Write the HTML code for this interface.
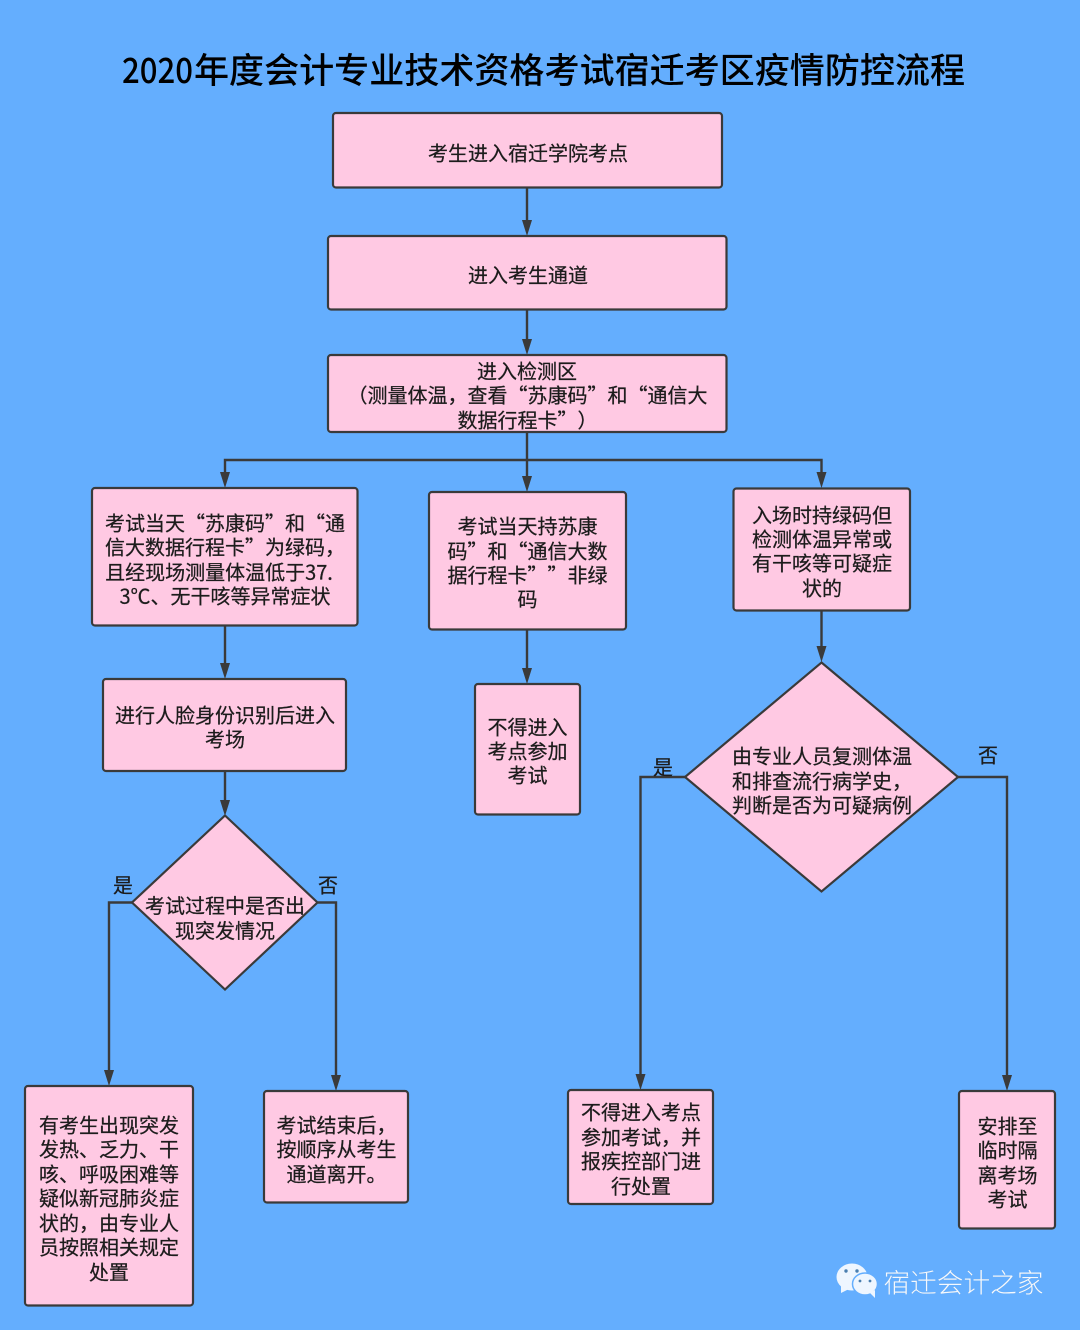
<!DOCTYPE html>
<html><head><meta charset="utf-8"><style>
html,body{margin:0;padding:0;background:#64aefe}
svg{display:block}
text{font-family:"WenQuanYi Zen Hei","Noto Sans CJK SC",sans-serif;font-size:20px;fill:#1c1c1c;stroke:#1c1c1c;stroke-width:.25;text-anchor:middle;text-spacing-trim:space-all;font-kerning:none;transform:translateY(.5px)}
tspan.q{font-family:"Noto Sans CJK SC",sans-serif}
.b{fill:#ffc9e3;stroke:#3a3a3a;stroke-width:2.2}
.l{fill:none;stroke:#3a3a3a;stroke-width:2.4}
.a{fill:#3a3a3a}
.t{font-family:'Noto Sans CJK SC','Liberation Sans',sans-serif;font-size:35px;font-weight:500;fill:#000;stroke:none;text-anchor:start;transform:none}
</style></head><body>
<svg width="1080" height="1330" viewBox="0 0 1080 1330" xmlns="http://www.w3.org/2000/svg">
<rect width="1080" height="1330" fill="#64aefe"/>
<text class="t" x="122" y="83" textLength="71" lengthAdjust="spacingAndGlyphs">2020</text>
<text class="t" x="194" y="83" textLength="771" lengthAdjust="spacingAndGlyphs">年度会计专业技术资格考试宿迁考区疫情防控流程</text>

<path class="l" d="M527 188V222M527 310V342M527 432V478M527 460H225V474M527 460H821.500V474M225 626V664M527 630V670M821.500 611V648M225 771V802M132 902.500H109V1072M318 902.500H336V1077M685 777H640.500V1076M958 777H1007V1077"/>
<g class="a">
<polygon points="527,236 522,220 532,220"/><polygon points="527,355 522,339 532,339"/><polygon points="527,492 522,476 532,476"/>
<polygon points="225,488 220,472 230,472"/><polygon points="821.500,488 816.500,472 826.500,472"/>
<polygon points="225,679 220,663 230,663"/><polygon points="527,684 522,668 532,668"/><polygon points="821.500,662 816.500,646 826.500,646"/>
<polygon points="225,816 220,800 230,800"/><polygon points="109,1086 104,1070 114,1070"/><polygon points="336,1091 331,1075 341,1075"/>
<polygon points="640.500,1090 635.500,1074 645.500,1074"/><polygon points="1007,1091 1002,1075 1012,1075"/>
</g>

<rect class="b" x="333" y="113" width="389" height="74.500" rx="3"/>
<rect class="b" x="328" y="236" width="398.500" height="73.500" rx="3"/>
<rect class="b" x="328" y="355" width="398.500" height="77" rx="3"/>
<rect class="b" x="92" y="488" width="265.500" height="137.500" rx="3"/>
<rect class="b" x="429" y="492" width="197" height="137.500" rx="3"/>
<rect class="b" x="733.500" y="488.500" width="176.500" height="122" rx="3"/>
<rect class="b" x="103" y="679" width="243" height="92" rx="3"/>
<rect class="b" x="475" y="684" width="105" height="130.500" rx="3"/>
<rect class="b" x="25" y="1086" width="168" height="219.500" rx="3"/>
<rect class="b" x="264" y="1091" width="144" height="111.500" rx="3"/>
<rect class="b" x="568" y="1090" width="145" height="114" rx="3"/>
<rect class="b" x="959" y="1091" width="96" height="137.500" rx="3"/>
<polygon class="b" points="225,815.500 317.500,902.500 225,989.500 132,902.500"/>
<polygon class="b" points="821.500,662.500 958,777 821.500,891.500 685,777"/>

<text x="528" y="160">考生进入宿迁学院考点</text>
<text x="528" y="282">进入考生通道</text>
<text x="527" y="378">进入检测区</text>
<text x="527.500" y="402">（测量体温，查看<tspan class="q">“</tspan>苏康码<tspan class="q">”</tspan>和<tspan class="q">“</tspan>通信大</text>
<text x="527.500" y="427">数据行程卡<tspan class="q">”）</tspan></text>

<text x="225" y="530">考试当天<tspan class="q">“</tspan>苏康码<tspan class="q">”</tspan>和<tspan class="q">“</tspan>通</text>
<text x="225" y="554">信大数据行程卡<tspan class="q">”</tspan>为绿码，</text>
<text x="219" y="579">且经现场测量体温低于37.</text>
<text x="225" y="603">3℃、无干咳等异常症状</text>

<text x="527.500" y="533">考试当天持苏康</text>
<text x="527.500" y="558">码<tspan class="q">”</tspan>和<tspan class="q">“</tspan>通信大数</text>
<text x="527.500" y="582">据行程卡<tspan class="q">””</tspan>非绿</text>
<text x="527.500" y="606">码</text>

<text x="822" y="522">入场时持绿码但</text>
<text x="822" y="546">检测体温异常或</text>
<text x="822" y="570">有干咳等可疑症</text>
<text x="822" y="595">状的</text>

<text x="225" y="722">进行人脸身份识别后进入</text>
<text x="225" y="746">考场</text>

<text x="527.500" y="734">不得进入</text>
<text x="527.500" y="758">考点参加</text>
<text x="527.500" y="782">考试</text>

<text x="225" y="912.500">考试过程中是否出</text>
<text x="225" y="937.500">现突发情况</text>
<text x="123" y="892">是</text>
<text x="328" y="892">否</text>

<text x="822" y="763">由专业人员复测体温</text>
<text x="822" y="788">和排查流行病学史，</text>
<text x="822" y="812">判断是否为可疑病例</text>
<text x="663" y="774">是</text>
<text x="988" y="762">否</text>

<text x="109" y="1132">有考生出现突发</text>
<text x="109" y="1156">发热、乏力、干</text>
<text x="109" y="1181">咳、呼吸困难等</text>
<text x="109" y="1205">疑似新冠肺炎症</text>
<text x="109" y="1230">状的，由专业人</text>
<text x="109" y="1254">员按照相关规定</text>
<text x="109" y="1279">处置</text>

<text x="336.500" y="1132">考试结束后，</text>
<text x="336.500" y="1156">按顺序从考生</text>
<text x="336.500" y="1181">通道离开。</text>

<text x="641" y="1119">不得进入考点</text>
<text x="641" y="1144">参加考试，并</text>
<text x="641" y="1168">报疾控部门进</text>
<text x="641" y="1193">行处置</text>

<text x="1007.500" y="1133">安排至</text>
<text x="1007.500" y="1157">临时隔</text>
<text x="1007.500" y="1182">离考场</text>
<text x="1007.500" y="1206">考试</text>

<g fill="#eef6ff">
<ellipse cx="852" cy="1277" rx="15.5" ry="13.5"/>
<polygon points="841,1286 841,1293 849,1289"/>
<ellipse cx="865" cy="1284" rx="12.5" ry="11" stroke="#64aefe" stroke-width="1.5"/>
<polygon points="870,1293 875,1298 875,1290"/>
</g>
<g fill="#4a7fb0">
<circle cx="846" cy="1271" r="1.7"/><circle cx="857" cy="1271" r="1.7"/>
<circle cx="860" cy="1281" r="1.4"/><circle cx="870" cy="1281" r="1.4"/>
</g>
<text x="963.500" y="1292" style="font-size:26.700px;fill:#f4f9ff;stroke:none;font-family:'Noto Sans CJK SC',sans-serif;font-weight:300;filter:drop-shadow(.7px .7px 0 rgba(50,85,130,.55))">宿迁会计之家</text>
</svg>
</body></html>
